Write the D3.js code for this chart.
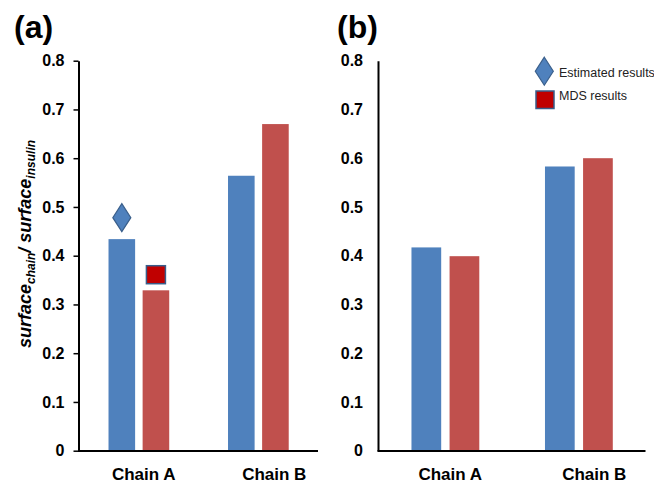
<!DOCTYPE html>
<html>
<head>
<meta charset="utf-8">
<script src="https://cdn.jsdelivr.net/npm/d3@7"></script>
<style>
  body { margin: 0; background: #fff; }
  text { font-family: "Liberation Sans", Arial, Helvetica, sans-serif; }
</style>
</head>
<body>
<div id="chart"></div>
<script>
// values
const categories = ["Chain A", "Chain B"];
const seriesNames = ["Estimated results", "MDS results"];
const panelAEstimated = [0.434, 0.564];
const panelAMds = [0.329, 0.670];
const panelBEstimated = [0.417, 0.583];
const panelBMds = [0.399, 0.600];
// markers drawn over Chain A in panel (a)
const markerEstimated = 0.478;
const markerMds = 0.361;
const yTicks = [0, 0.1, 0.2, 0.3, 0.4, 0.5, 0.6, 0.7, 0.8];

const width = 654, height = 481;
const blue = "#4f81bd", red = "#c0504d";
const fmt = d => d === 0 ? "0" : d3.format(".1f")(d);

const svg = d3.select("#chart").append("svg")
    .attr("width", width)
    .attr("height", height);

const y = d3.scaleLinear().domain([0, 0.8]).range([450.7, 60.7]);

function drawPanel(opts) {
    const g = svg.append("g");
    const x0 = d3.scaleBand().domain(categories).range([opts.left, opts.right]).padding(0);
    const bw = x0.bandwidth();
    const x1 = d3.scaleBand().domain(seriesNames)
        .range([bw * 0.247, bw * 0.755])
        .paddingInner(0.22);

    const rows = categories.map((c, i) => ({
        cat: c,
        vals: [{ s: seriesNames[0], v: opts.est[i] }, { s: seriesNames[1], v: opts.mds[i] }]
    }));

    g.selectAll(".grp")
        .data(rows)
        .enter()
        .append("g")
        .attr("transform", d => `translate(${x0(d.cat)},0)`)
        .selectAll("rect")
        .data(d => d.vals)
        .enter()
        .append("rect")
        .attr("x", d => x1(d.s))
        .attr("y", d => y(d.v))
        .attr("width", x1.bandwidth())
        .attr("height", d => y(0) - y(d.v))
        .attr("fill", (d, i) => i === 0 ? blue : red);

    // y axis
    const yAxis = g.append("g")
        .attr("transform", `translate(${opts.left - 0.5},0)`)
        .call(d3.axisLeft(y)
            .tickValues(yTicks)
            .tickSize(opts.tickSize)
            .tickSizeOuter(0)
            .tickPadding(opts.tickPad)
            .tickFormat(fmt));
    yAxis.select(".domain").attr("stroke", "#000").attr("stroke-width", 2);
    yAxis.selectAll(".tick line").attr("stroke", "#000").attr("stroke-width", 1.5);
    yAxis.selectAll(".tick text")
        .attr("font-size", "16px")
        .attr("font-weight", "bold")
        .attr("fill", "#000")
        .style("font-family", "'Liberation Sans', Arial, sans-serif");

    // x axis line
    g.append("line")
        .attr("x1", opts.left - 1)
        .attr("x2", opts.right)
        .attr("y1", y(0) + 0.3)
        .attr("y2", y(0) + 0.3)
        .attr("stroke", "#000")
        .attr("stroke-width", 2);

    // category labels (sit a little right of the band centre in the original)
    g.selectAll(".cat")
        .data(categories)
        .enter()
        .append("text")
        .attr("x", (d, i) => x0(d) + bw / 2 + opts.labelShift[i])
        .attr("y", 479.5)
        .attr("text-anchor", "middle")
        .attr("font-size", "17px")
        .attr("font-weight", "bold")
        .attr("fill", "#000")
        .text(d => d);

    g.append("text")
        .attr("x", opts.tagX)
        .attr("y", 38)
        .attr("font-size", "32px")
        .attr("font-weight", "bold")
        .attr("fill", "#000")
        .text(opts.tag);

    return { x0, x1 };
}

function diamond(cx, cy) {
    return `M${cx},${cy - 14}L${cx + 9},${cy}L${cx},${cy + 14}L${cx - 9},${cy}Z`;
}

const pa = drawPanel({
    left: 79, right: 318, est: panelAEstimated, mds: panelAMds,
    tickSize: 5, tickPad: 9, labelShift: [5, 16], tag: "(a)", tagX: 14
});
drawPanel({
    left: 378.5, right: 645.5, est: panelBEstimated, mds: panelBMds,
    tickSize: 0, tickPad: 15, labelShift: [5, 15.5], tag: "(b)", tagX: 337
});

// markers over Chain A in panel (a)
const cA = pa.x0(categories[0]);
svg.append("path")
    .attr("d", diamond(cA + pa.x1(seriesNames[0]) + pa.x1.bandwidth() / 2, y(markerEstimated)))
    .attr("fill", blue)
    .attr("stroke", "#3a5f8b")
    .attr("stroke-width", 1.2);
svg.append("rect")
    .attr("x", cA + pa.x1(seriesNames[1]) + pa.x1.bandwidth() / 2 - 9.5)
    .attr("y", y(markerMds) - 9)
    .attr("width", 19)
    .attr("height", 18)
    .attr("fill", "#c00000")
    .attr("stroke", "#385d8a")
    .attr("stroke-width", 1.5);

// legend
const leg = svg.append("g");
leg.append("path")
    .attr("d", diamond(544.3, 71.2))
    .attr("fill", blue)
    .attr("stroke", "#3a5f8b")
    .attr("stroke-width", 1.2);
leg.append("rect")
    .attr("x", 536).attr("y", 91)
    .attr("width", 18).attr("height", 17.5)
    .attr("fill", "#c00000")
    .attr("stroke", "#385d8a")
    .attr("stroke-width", 1.5);
leg.selectAll(".lt")
    .data(seriesNames)
    .enter()
    .append("text")
    .attr("x", 559)
    .attr("y", (d, i) => 76.5 + i * 23.8)
    .attr("font-size", "12.5px")
    .attr("fill", "#222")
    .text(d => d);

// y axis title
const yt = svg.append("text")
    .attr("transform", "translate(31,244) rotate(-90)")
    .attr("text-anchor", "middle")
    .attr("font-weight", "bold")
    .attr("font-style", "italic")
    .attr("font-size", "18px")
    .attr("fill", "#000");
yt.append("tspan").text("surface");
yt.append("tspan").attr("font-size", "12px").attr("dy", 4).text("chain");
yt.append("tspan").attr("dy", -4).text("/ surface");
yt.append("tspan").attr("font-size", "12px").attr("dy", 4).text("insulin");
</script>
</body>
</html>
